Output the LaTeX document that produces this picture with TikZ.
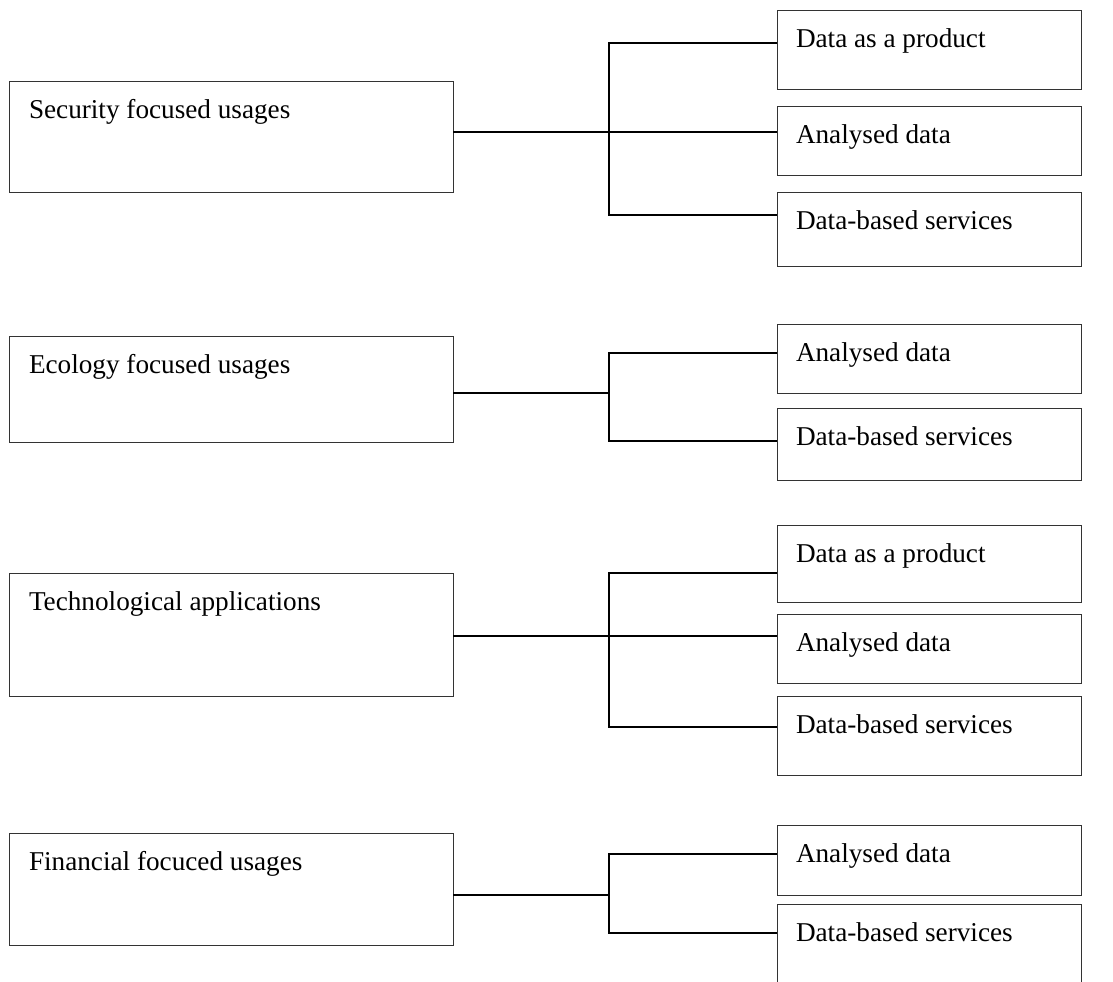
\documentclass[tikz,border=0pt]{standalone}
\usepackage{fontspec}
\setmainfont{Liberation Serif}
\usetikzlibrary{positioning}

\begin{document}
\begin{tikzpicture}[x=0.5pt,y=-0.5pt,font=\fontsize{13.6}{16}\selectfont,
 box/.style={draw=black!80,line width=0.5pt,inner ysep=0pt,outer sep=0pt,align=flush left,text height=18.5pt},
 usage/.style={box,inner xsep=10pt,text width=202pt},
 item/.style={box,inner xsep=9.5pt,text width=133pt},
 link/.style={line width=0.75pt,black}]
\useasboundingbox (0,0) rectangle (1113,981);

% usage areas
\node[usage,anchor=north west,text depth=37pt] (sec) at (9,81) {Security focused usages};
\node[usage,below=72pt of sec,text depth=34.5pt] (eco) {Ecology focused usages};
\node[usage,below=65.5pt of eco,text depth=43pt] (tech) {Technological applications};
\node[usage,below=68.5pt of tech,text depth=37.5pt] (fin) {Financial focuced usages};

% outputs
\node[item,anchor=north west,text depth=21pt] (secprod) at (777,10) {Data as a product};
\node[item,below=8.5pt of secprod,text depth=16pt] (secdata) {Analysed data};
\node[item,below=8.5pt of secdata,text depth=18.5pt] (secserv) {Data-based services};
\node[item,below=29pt of secserv,text depth=16pt] (ecodata) {Analysed data};
\node[item,below=7.5pt of ecodata,text depth=17.5pt] (ecoserv) {Data-based services};
\node[item,below=22.5pt of ecoserv,text depth=20pt] (techprod) {Data as a product};
\node[item,below=6pt of techprod,text depth=16pt] (techdata) {Analysed data};
\node[item,below=6.5pt of techdata,text depth=21pt] (techserv) {Data-based services};
\node[item,below=25pt of techserv,text depth=16.5pt] (findata) {Analysed data};
\node[item,below=4.5pt of findata,text depth=21.5pt] (finserv) {Data-based services};

% bus points
\coordinate (sectop) at (609,43);  \coordinate (secmid) at (609,132); \coordinate (secbot) at (609,215);
\coordinate (ecotop) at (609,353); \coordinate (ecomid) at (609,393); \coordinate (ecobot) at (609,441);
\coordinate (techtop) at (609,573); \coordinate (techmid) at (609,636); \coordinate (techbot) at (609,727);
\coordinate (fintop) at (609,854); \coordinate (finmid) at (609,895); \coordinate (finbot) at (609,933);

\draw[link] (secprod.west |- sectop) -| (secbot) -- (secserv.west |- secbot);
\draw[link] (sec.east |- secmid) -- (secdata.west |- secmid);

\draw[link] (ecodata.west |- ecotop) -| (ecobot) -- (ecoserv.west |- ecobot);
\draw[link] (eco.east |- ecomid) -- (ecomid);

\draw[link] (techprod.west |- techtop) -| (techbot) -- (techserv.west |- techbot);
\draw[link] (tech.east |- techmid) -- (techdata.west |- techmid);

\draw[link] (findata.west |- fintop) -| (finbot) -- (finserv.west |- finbot);
\draw[link] (fin.east |- finmid) -- (finmid);
\end{tikzpicture}
\end{document}
